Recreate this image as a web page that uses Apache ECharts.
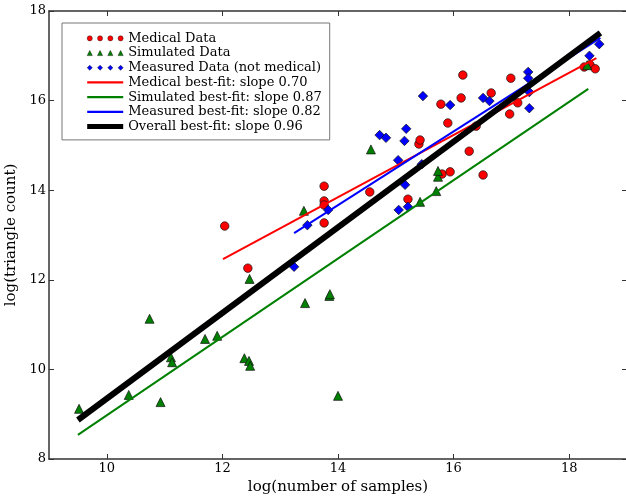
<!DOCTYPE html>
<html><head><meta charset="utf-8">
<script src="https://cdn.jsdelivr.net/npm/echarts@6/dist/echarts.min.js"></script>
<style>html,body{margin:0;padding:0;background:#fff}#c{width:626px;height:497px}</style>
</head><body><div id="c"></div><script>
// ---- data ----
const xTicks = [10, 12, 14, 16, 18];
const yTicks = [8, 10, 12, 14, 16, 18];

const medicalX = [12.04, 12.44, 13.76, 13.76, 13.76, 13.76, 14.55, 15.21, 15.40, 15.42, 15.78, 15.80, 15.94, 15.90, 16.13, 16.16, 16.27, 16.39, 16.51, 16.65, 16.97, 16.99, 17.11, 18.26, 18.36, 18.45];
const medicalY = [13.20, 12.26, 14.09, 13.76, 13.67, 13.27, 13.96, 13.80, 15.03, 15.12, 15.92, 14.36, 14.41, 15.50, 16.06, 16.57, 14.87, 15.43, 14.34, 16.17, 15.70, 16.50, 15.95, 16.75, 16.80, 16.71];

const simulatedX = [9.52, 10.38, 10.74, 10.93, 11.11, 11.13, 11.70, 11.91, 12.38, 12.46, 12.48, 12.47, 13.41, 13.43, 13.85, 13.86, 14.00, 14.57, 15.42, 15.70, 15.73, 15.73, 18.31];
const simulatedY = [9.12, 9.43, 11.13, 9.27, 10.27, 10.16, 10.68, 10.75, 10.25, 10.19, 10.08, 12.02, 13.54, 11.48, 11.64, 11.68, 9.41, 14.91, 13.74, 13.98, 14.30, 14.43, 16.79];

const measuredX = [13.24, 13.47, 13.83, 14.72, 14.83, 15.04, 15.05, 15.15, 15.16, 15.18, 15.21, 15.45, 15.47, 15.94, 16.51, 16.62, 17.29, 17.29, 17.31, 17.31, 18.35, 18.52];
const measuredY = [12.29, 13.22, 13.56, 15.23, 15.17, 14.67, 13.56, 15.10, 14.12, 15.37, 13.63, 14.58, 16.10, 15.90, 16.06, 15.99, 16.64, 16.50, 16.19, 15.83, 17.00, 17.26];

const medicalFitX = [12.01, 18.47];
const medicalFitY = [12.46, 16.95];
const simulatedFitX = [9.50, 18.33];
const simulatedFitY = [8.54, 16.26];
const measuredFitX = [13.24, 18.54];
const measuredFitY = [13.04, 17.40];
const overallFitX = [9.50, 18.54];
const overallFitY = [8.87, 17.51];

const seriesNames = ['Medical Data', 'Simulated Data', 'Measured Data (not medical)',
  'Medical best-fit: slope 0.70', 'Simulated best-fit: slope 0.87',
  'Measured best-fit: slope 0.82', 'Overall best-fit: slope 0.96'];
// ---------------------------------------

const zip = (a, b) => a.map((v, i) => [v, b[i]]);
const FONT = 'DejaVu Serif';
const AX = '#333';

function fourOf(shape) {
  let p = '';
  for (let k = 0; k < 4; k++) {
    const o = k * 10;
    if (shape === 'circle') p += `M${o},2.5 A2.5,2.5 0 1,0 ${o+5},2.5 A2.5,2.5 0 1,0 ${o},2.5 Z `;
    if (shape === 'triangle') p += `M${o},5 L${o+2.5},0 L${o+5},5 Z `;
    if (shape === 'diamond') p += `M${o+2.5},0 L${o+5},2.5 L${o+2.5},5 L${o},2.5 Z `;
  }
  return 'path://' + p;
}
const barIcon = h => `path://M0,0 L35,0 L35,${h} L0,${h} Z`;

const chart = echarts.init(document.getElementById('c'), null, {renderer: 'canvas'});
const scatterStyle = c => ({color: c, borderColor: '#111', borderWidth: 0.7, opacity: 1});
const lineSeries = (name, xs, ys, color, w) => ({
  name, type: 'line', data: zip(xs, ys), showSymbol: false, symbol: 'none',
  lineStyle: {color, width: w, opacity: 1}, itemStyle: {color}, z: 3, silent: true
});

chart.setOption({
  animation: false,
  textStyle: {fontFamily: FONT},
  grid: {left: 49, top: 11, width: 578, height: 448, containLabel: false, outerBoundsMode: 'none'},
  legend: {
    orient: 'vertical', left: 62, top: 23,
    padding: [8, 8, 6, 25], itemGap: 0, itemWidth: 36, itemHeight: 8,
    backgroundColor: '#fff', borderColor: '#777', borderWidth: 1, borderRadius: 0,
    textStyle: {fontFamily: FONT, fontSize: 13, color: '#000', lineHeight: 14.7},
    selectedMode: false,
    data: [
      {name: seriesNames[0], icon: fourOf('circle'), itemStyle: {color: '#f00', borderColor: '#000', borderWidth: 0.4, opacity: 1}},
      {name: seriesNames[1], icon: fourOf('triangle'), itemStyle: {color: '#008000', borderColor: '#000', borderWidth: 0.4, opacity: 1}},
      {name: seriesNames[2], icon: fourOf('diamond'), itemStyle: {color: '#00f', borderColor: '#000', borderWidth: 0.4, opacity: 1}},
      {name: seriesNames[3], icon: barIcon(2.2), itemStyle: {color: '#f00', borderWidth: 0}},
      {name: seriesNames[4], icon: barIcon(2.2), itemStyle: {color: '#008000', borderWidth: 0}},
      {name: seriesNames[5], icon: barIcon(2.2), itemStyle: {color: '#00f', borderWidth: 0}},
      {name: seriesNames[6], icon: barIcon(5), itemStyle: {color: '#000', borderWidth: 0}}
    ]
  },
  xAxis: [{
    type: 'value', min: 9, max: 19, position: 'bottom',
    name: 'log(number of samples)', nameLocation: 'middle', nameGap: 19,
    nameTextStyle: {fontFamily: FONT, fontSize: 15, color: '#000'},
    axisLine: {show: true, onZero: false, lineStyle: {color: AX, width: 1.5}},
    axisTick: {show: true, inside: true, length: 5, customValues: xTicks, lineStyle: {color: AX}},
    axisLabel: {show: true, customValues: xTicks, margin: 3, fontFamily: FONT, fontSize: 13, color: '#000'},
    splitLine: {show: false}
  }, {
    type: 'value', min: 9, max: 19, position: 'top',
    axisLine: {show: true, onZero: false, lineStyle: {color: AX, width: 1.5}},
    axisTick: {show: true, inside: true, length: 5, customValues: xTicks, lineStyle: {color: AX}},
    axisLabel: {show: false}, splitLine: {show: false}
  }],
  yAxis: [{
    type: 'value', min: 8, max: 18, interval: 2, position: 'left',
    name: 'log(triangle count)', nameLocation: 'middle', nameGap: 21,
    nameTextStyle: {fontFamily: FONT, fontSize: 15, color: '#000'},
    axisLine: {show: true, onZero: false, lineStyle: {color: AX, width: 1.5}},
    axisTick: {show: true, inside: true, length: 5, lineStyle: {color: AX}},
    axisLabel: {show: true, margin: 3, fontFamily: FONT, fontSize: 13, color: '#000'},
    splitLine: {show: false}
  }, {
    type: 'value', min: 8, max: 18, interval: 2, position: 'right',
    axisLine: {show: true, onZero: false, lineStyle: {color: AX, width: 1.5}},
    axisTick: {show: true, inside: true, length: 5, lineStyle: {color: AX}},
    axisLabel: {show: false}, splitLine: {show: false}
  }],
  series: [
    {name: seriesNames[0], type: 'scatter', symbol: 'circle', symbolSize: 8.5,
     data: zip(medicalX, medicalY), itemStyle: scatterStyle('#f00'), z: 2},
    {name: seriesNames[1], type: 'scatter', symbol: 'triangle', symbolSize: 9,
     data: zip(simulatedX, simulatedY), itemStyle: scatterStyle('#008000'), z: 2},
    {name: seriesNames[2], type: 'scatter', symbol: 'diamond', symbolSize: 9.5,
     data: zip(measuredX, measuredY), itemStyle: scatterStyle('#00f'), z: 2},
    lineSeries(seriesNames[3], medicalFitX, medicalFitY, '#f00', 2),
    lineSeries(seriesNames[4], simulatedFitX, simulatedFitY, '#008000', 2),
    lineSeries(seriesNames[5], measuredFitX, measuredFitY, '#00f', 2),
    lineSeries(seriesNames[6], overallFitX, overallFitY, '#000', 6)
  ]
});
</script></body></html>
